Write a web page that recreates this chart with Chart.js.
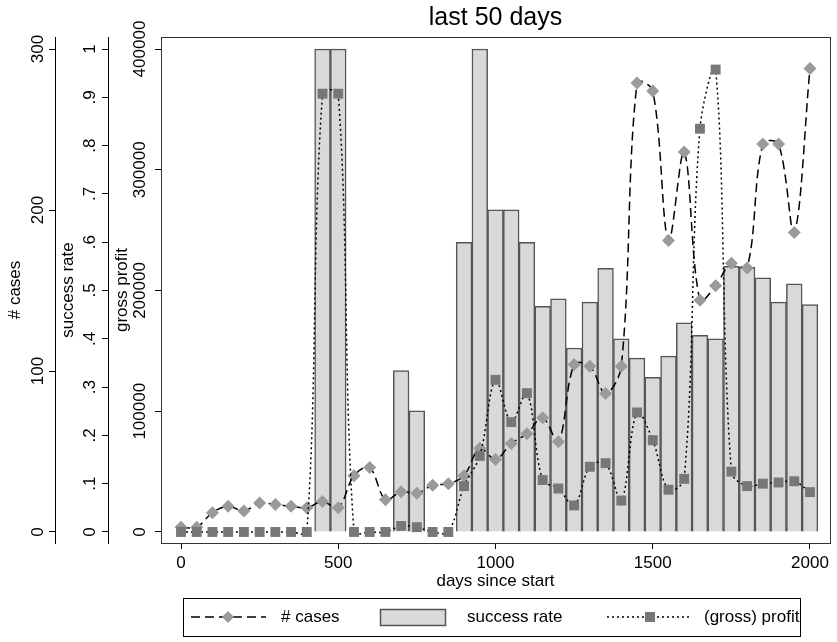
<!DOCTYPE html>
<html>
<head>
<meta charset="utf-8">
<script src="https://cdn.jsdelivr.net/npm/chart.js@4.4.1/dist/chart.umd.min.js"></script>
<style>
  html, body { margin: 0; padding: 0; background: #fff; }
  #wrap { width: 837px; height: 642px; }
</style>
</head>
<body>
<div id="wrap"><canvas id="statChart" width="837" height="642"></canvas></div>
<script>
// days since start, one point every 50 days
const days = [0, 50, 100, 150, 200, 250, 300, 350, 400, 450, 500, 550, 600, 650, 700, 750, 800, 850, 900, 950,
  1000, 1050, 1100, 1150, 1200, 1250, 1300, 1350, 1400, 1450, 1500, 1550, 1600, 1650, 1700, 1750, 1800, 1850, 1900, 1950, 2000];

const cases = [3, 3, 12, 16, 13, 18, 17, 16, 15, 19, 15, 35, 40, 20, 25, 24, 29, 30, 35, 52,
  45, 55, 61, 71, 56, 104, 103, 86, 103, 279, 274, 181, 236, 144, 153, 167, 164, 241, 241, 186, 288];

const successRate = [null, null, null, null, null, null, null, null, null, 1, 1, null, null, null, 0.334, 0.251, null, null, 0.60, 1,
  0.667, 0.667, 0.60, 0.467, 0.483, 0.381, 0.476, 0.546, 0.40, 0.36, 0.32, 0.364, 0.433, 0.407, 0.40, 0.55, 0.548, 0.526, 0.476, 0.514, 0.471];

const profit = [0, 0, 0, 0, 0, 0, 0, 0, 0, 363000, 363000, 0, 0, 0, 5000, 4000, 0, 0, 38000, 63000,
  126000, 91000, 115000, 43000, 36000, 22000, 54000, 57000, 26000, 99000, 76000, 35000, 44000, 334000, 383000, 50000, 38000, 40000, 41000, 42000, 33000];

// tick labels
const xTicks = [0, 500, 1000, 1500, 2000];
const casesTicks = [0, 100, 200, 300];
const rateTicks = [0, 0.1, 0.2, 0.3, 0.4, 0.5, 0.6, 0.7, 0.8, 0.9, 1];
const profitTicks = [0, 100000, 200000, 300000, 400000];

const seriesNames = ['# cases', 'success rate', '(gross) profit'];

const DIAMOND = '#9a9a9a';
const SQUARE = '#777777';
const BAR_FILL = '#d9d9d9';
const BAR_LINE = '#555555';

Chart.defaults.font.family = "'Liberation Sans', Arial, Helvetica, sans-serif";
Chart.defaults.color = '#000';

const toXY = vals => days.map((d, i) => ({ x: d, y: vals[i] }));
const setTicks = list => scale => { scale.ticks = list.map(v => ({ value: v })); };

// stata style legend box under the axis
const boxLegend = {
  id: 'boxLegend',
  afterDraw(chart) {
    const ctx = chart.ctx;
    const y = 617;
    ctx.save();
    ctx.strokeStyle = '#000';
    ctx.lineWidth = 1;
    ctx.strokeRect(183.5, 598.5, 617, 38);

    ctx.font = "17px 'Liberation Sans', Arial, sans-serif";
    ctx.fillStyle = '#000';
    ctx.textBaseline = 'middle';

    // # cases
    ctx.setLineDash([9, 5]);
    ctx.lineWidth = 1.5;
    ctx.beginPath(); ctx.moveTo(191, y); ctx.lineTo(266, y); ctx.stroke();
    ctx.setLineDash([]);
    ctx.fillStyle = DIAMOND;
    ctx.beginPath();
    ctx.moveTo(228, y - 6); ctx.lineTo(234, y); ctx.lineTo(228, y + 6); ctx.lineTo(222, y);
    ctx.closePath(); ctx.fill();
    ctx.fillStyle = '#000';
    ctx.fillText(seriesNames[0], 281, y);

    // success rate
    ctx.fillStyle = BAR_FILL;
    ctx.fillRect(380, 609, 66, 17);
    ctx.strokeStyle = BAR_LINE;
    ctx.strokeRect(380.5, 609.5, 65, 16);
    ctx.fillStyle = '#000';
    ctx.fillText(seriesNames[1], 467, y);

    // profit
    ctx.strokeStyle = '#000';
    ctx.setLineDash([2, 3]);
    ctx.beginPath(); ctx.moveTo(607, y); ctx.lineTo(692, y); ctx.stroke();
    ctx.setLineDash([]);
    ctx.fillStyle = SQUARE;
    ctx.fillRect(645, y - 5, 10, 10);
    ctx.fillStyle = '#000';
    ctx.fillText(seriesNames[2], 704, y);
    ctx.restore();
  }
};

// outline of the plot region
const plotBox = {
  id: 'plotBox',
  beforeDatasetsDraw(chart) {
    const a = chart.chartArea;
    const ctx = chart.ctx;
    ctx.save();
    ctx.strokeStyle = '#333';
    ctx.lineWidth = 1;
    ctx.strokeRect(Math.round(a.left) + 0.5, Math.round(a.top) + 0.5, Math.round(a.right - a.left), Math.round(a.bottom - a.top));
    ctx.restore();
  }
};

const yAxis = (title, ticks, min, max, weight, width, titlePad, tickPad, fmt) => ({
  type: 'linear',
  position: 'left',
  weight: weight,
  min: min,
  max: max,
  afterBuildTicks: setTicks(ticks),
  afterFit: s => { s.width = width; },
  border: { display: true, color: '#000', width: 1 },
  grid: { drawOnChartArea: false, drawTicks: true, tickLength: 6, color: '#000' },
  ticks: {
    minRotation: 90, maxRotation: 90,
    crossAlign: 'center',
    padding: tickPad,
    font: { size: 17 },
    callback: fmt
  },
  title: { display: true, text: title, font: { size: 17 }, padding: { top: titlePad, bottom: 0 } }
});

new Chart(document.getElementById('statChart'), {
  type: 'line',
  data: {
    datasets: [
      {
        type: 'line',
        label: seriesNames[2],
        data: toXY(profit),
        yAxisID: 'yProfit',
        order: 0,
        borderColor: '#000',
        borderWidth: 1.5,
        borderDash: [2, 3],
        tension: 0.35,
        pointStyle: 'rect',
        pointRadius: 7,
        pointBackgroundColor: SQUARE,
        pointBorderColor: SQUARE,
        pointBorderWidth: 0
      },
      {
        type: 'line',
        label: seriesNames[0],
        data: toXY(cases),
        yAxisID: 'yCases',
        order: 1,
        borderColor: '#000',
        borderWidth: 1.5,
        borderDash: [9, 5],
        tension: 0.35,
        pointStyle: 'rectRot',
        pointRadius: 6.5,
        pointBackgroundColor: DIAMOND,
        pointBorderColor: DIAMOND,
        pointBorderWidth: 0
      },
      {
        type: 'bar',
        label: seriesNames[1],
        data: toXY(successRate),
        yAxisID: 'yRate',
        order: 2,
        backgroundColor: BAR_FILL,
        borderColor: BAR_LINE,
        borderWidth: 1.5,
        categoryPercentage: 1,
        barPercentage: 1
      }
    ]
  },
  options: {
    responsive: false,
    animation: false,
    layout: { padding: { left: 0, right: 7, top: 0, bottom: 47 } },
    plugins: {
      legend: { display: false },
      tooltip: { enabled: false },
      title: {
        display: true,
        text: 'last 50 days',
        fullSize: false,
        color: '#000',
        font: { size: 25, weight: 'normal' },
        padding: { top: 3, bottom: 4 }
      }
    },
    scales: {
      x: {
        type: 'linear',
        min: -63.6,
        max: 2063.6,
        offset: false,
        afterBuildTicks: setTicks(xTicks),
        afterFit: s => { s.height = 52; },
        border: { display: true, color: '#000', width: 1 },
        grid: { drawOnChartArea: false, drawTicks: true, tickLength: 6, color: '#000', offset: false },
        ticks: { font: { size: 17 }, padding: 4, maxRotation: 0, callback: v => String(v) },
        title: { display: true, text: 'days since start', font: { size: 17 }, padding: { top: 0, bottom: 3 } }
      },
      yCases: yAxis('# cases', casesTicks, -6.85, 307.5, 3, 55, 5, -3, v => String(v)),
      yRate: yAxis('success rate', rateTicks, -0.0228, 1.0249, 2, 53, 3, 5,
        v => (v === 0 || v === 1) ? String(v) : v.toFixed(1).replace(/^0/, '')),
      yProfit: yAxis('gross profit', profitTicks, -9130, 409960, 1, 53, 4, -14, v => String(v))
    }
  },
  plugins: [plotBox, boxLegend]
});
</script>
</body>
</html>
